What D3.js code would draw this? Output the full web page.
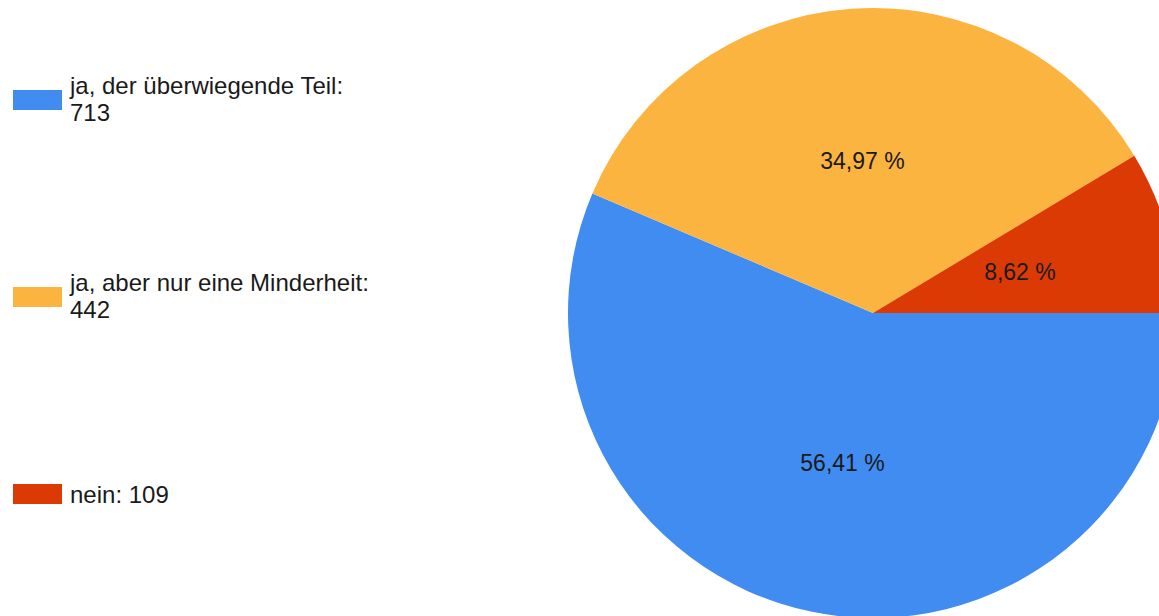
<!DOCTYPE html>
<html><head><meta charset="utf-8">
<script src="https://cdn.jsdelivr.net/npm/d3@7"></script>
<style>html,body{margin:0;padding:0;background:#fff;overflow:hidden}</style>
</head><body>
<svg id="c" width="1159" height="616"></svg>
<script>
const categories = ["ja, der überwiegende Teil:", "ja, aber nur eine Minderheit:", "nein:"];
const values = [713, 442, 109];
const legendValues = ["713", "442", "109"];
const colors = ["#418CF0", "#FCB441", "#DC3A04"];

const W = 1159, H = 616;
const svg = d3.select("#c");
const font = "'Liberation Sans', Arial, sans-serif";
const cx = 873, cy = 313, R = 305;

const total = d3.sum(values);
const pie = d3.pie().sort(null).value(d => d).startAngle(Math.PI/2).endAngle(Math.PI/2 + 2*Math.PI);
const arcs = pie(values);
const arc = d3.arc().innerRadius(0).outerRadius(R);
const labelArc = d3.arc().innerRadius(R*0.5).outerRadius(R*0.5);

const g = svg.append("g").attr("transform", `translate(${cx},${cy})`);
g.selectAll("path").data(arcs).join("path")
  .attr("d", arc).attr("fill", (d,i) => colors[i]);

const fmt = v => (v/total*100).toFixed(2).replace(".", ",") + " %";
g.selectAll("text").data(arcs).join("text")
  .attr("transform", d => `translate(${labelArc.centroid(d)})`)
  .attr("text-anchor", "middle").attr("dy", "0.36em")
  .attr("font-family", font).attr("font-size", 23).attr("fill", "#1a1a1a")
  .text(d => fmt(d.value));

// legend
const ly = d3.scalePoint().domain(categories).range([100, 494]);
const lg = svg.append("g");
const items = lg.selectAll("g").data(categories).join("g")
  .attr("transform", d => `translate(0,${ly(d)})`);
items.append("rect").attr("x", 13).attr("y", -10).attr("width", 49).attr("height", 20)
  .attr("fill", (d,i) => colors[i]);
items.each(function(d, i) {
  const t = d3.select(this).append("text")
    .attr("font-family", font).attr("font-size", 24).attr("fill", "#1a1a1a");
  if (i < 2) {
    t.append("tspan").attr("x", 70).attr("y", -6).text(d);
    t.append("tspan").attr("x", 70).attr("y", 21).text(legendValues[i]);
  } else {
    t.append("tspan").attr("x", 70).attr("y", 9).text(d + " " + legendValues[i]);
  }
});
</script>
</body></html>
